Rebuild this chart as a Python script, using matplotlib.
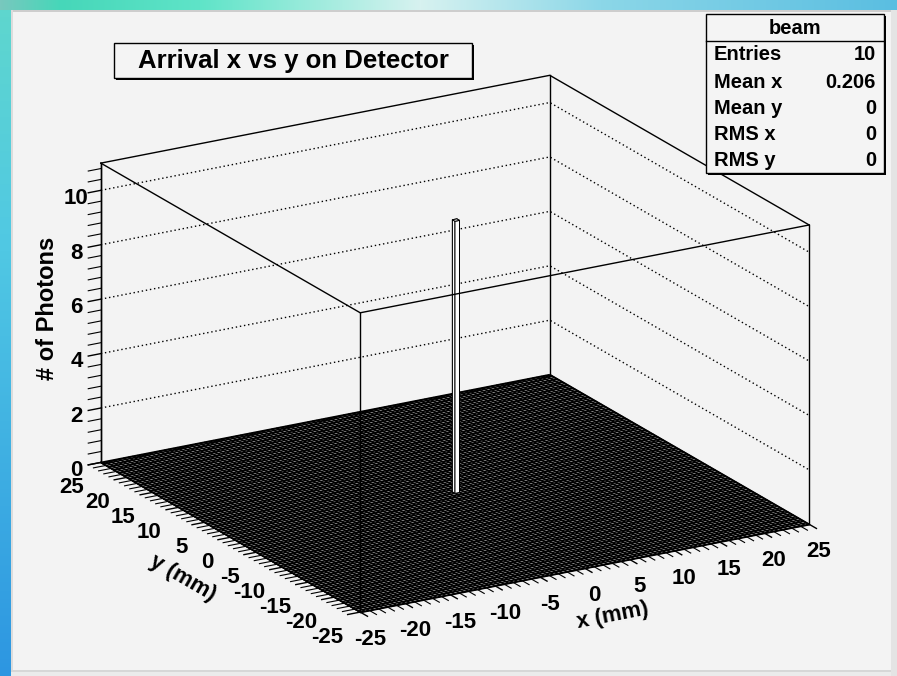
import numpy as np
import matplotlib
matplotlib.use("Agg")
import matplotlib.pyplot as plt
from matplotlib.patches import Rectangle
from mpl_toolkits.mplot3d import proj3d
from mpl_toolkits.mplot3d.art3d import Line3DCollection, Poly3DCollection

plt.rcParams['font.family'] = ['Liberation Sans', 'DejaVu Sans']
plt.rcParams['font.weight'] = 'bold'
plt.rcParams['axes.unicode_minus'] = False

# ---------------- data ----------------
title_text = "Arrival x vs y on Detector"
hist_name = "beam"
x_label = "x (mm)"
y_label = "y (mm)"
z_label = "# of Photons"
x_range = [-25.0, 25.0]
y_range = [-25.0, 25.0]
n_bins = [100, 100]
entry_x = [0.206]
entry_y = [0.0]
entry_weight = [10]
z_max = 11.0
x_tick_values = [-25, -20, -15, -10, -5, 0, 5, 10, 15, 20, 25]
y_tick_values = [-25, -20, -15, -10, -5, 0, 5, 10, 15, 20, 25]
z_tick_values = [0, 2, 4, 6, 8, 10]
stats_names = ["Entries", "Mean x", "Mean y", "RMS x", "RMS y"]
stats_values = ["10", "0.206", "0", "0", "0"]

W, H = 897, 676
fig = plt.figure(figsize=(W / 100, H / 100), dpi=100)

# ---------------- slide background ----------------
bg = fig.add_axes([0, 0, 1, 1], zorder=-10)
bg.set_axis_off()
img = np.ones((H, W, 3)) * (243 / 255)
cols = np.arange(W)
stops_x = [0, 60, 200, 420, 600, W - 1]
stops_c = np.array([(120, 200, 190), (70, 215, 185), (95, 228, 200),
                    (215, 242, 240), (140, 215, 232), (90, 190, 225)]) / 255
top = np.stack([np.interp(cols, stops_x, stops_c[:, k]) for k in range(3)], axis=1)
img[0:10, :, :] = top[None, :, :]
rows = np.arange(H)
lstops_y = [0, 250, H - 1]
lstops_c = np.array([(95, 215, 205), (80, 200, 228), (45, 150, 225)]) / 255
left = np.stack([np.interp(rows, lstops_y, lstops_c[:, k]) for k in range(3)], axis=1)
img[10:, 0:11, :] = left[10:, None, :]
img[10:12, 11:, :] = 205 / 255
img[10:, 11:13, :] = 220 / 255
img[670:672, 11:, :] = 215 / 255
img[672:, 11:, :] = 235 / 255
img[10:, 891:, :] = 228 / 255
bg.imshow(img, aspect='auto', extent=[0, W, H, 0], interpolation='nearest')
bg.set_xlim(0, W)
bg.set_ylim(H, 0)

# ---------------- 3D lego ----------------
S0 = 600.0
ax = fig.add_axes([100 / W, 40 / H, S0 / W, S0 / H], projection='3d')
ax.set_proj_type('ortho')
ax.view_init(elev=19.63, azim=-120.21)
ax.set_box_aspect((520.7, 516.7, 318.5))
ax.set_xlim(*x_range)
ax.set_ylim(*y_range)
ax.set_zlim(0, z_max)
ax.computed_zorder = False
ax.set_facecolor((1, 1, 1, 0))
ax.grid(False)
for a in (ax.xaxis, ax.yaxis, ax.zaxis):
    a.set_pane_color((1, 1, 1, 0))
    a.line.set_color('black')
    a.line.set_linewidth(1.0)
    a._axinfo['tick']['inward_factor'] = 0.35
    a._axinfo['tick']['outward_factor'] = 0.0
    a._axinfo['tick']['linewidth'] = {True: 1.0, False: 0.8}

ax.set_xticks(x_tick_values)
ax.set_yticks(y_tick_values)
ax.set_zticks(z_tick_values)
ax.set_xticks(np.arange(x_range[0], x_range[1] + 0.5, 1.0), minor=True)
ax.set_yticks(np.arange(y_range[0], y_range[1] + 0.5, 1.0), minor=True)
ax.set_zticks(np.arange(0, z_max + 0.01, 0.4), minor=True)
ax.tick_params(axis='x', which='major', labelsize=16, pad=3)
ax.tick_params(axis='y', which='major', labelsize=16, pad=3)
ax.tick_params(axis='z', which='major', labelsize=16, pad=2)
plt.setp(ax.get_yticklabels(), ha='right')
ax.set_xlabel(x_label, fontsize=16, fontweight='bold', labelpad=10)
ax.set_ylabel(y_label, fontsize=16, fontweight='bold', labelpad=10)
ax.set_zlabel(z_label, fontsize=17, fontweight='bold', labelpad=1)

x_edges = np.linspace(x_range[0], x_range[1], n_bins[0] + 1)
y_edges = np.linspace(y_range[0], y_range[1], n_bins[1] + 1)
counts, _, _ = np.histogram2d(entry_x, entry_y, bins=[x_edges, y_edges],
                              weights=entry_weight)

# back wall dotted grid
x0, x1 = x_range
y0, y1 = y_range
for zt in z_tick_values[1:]:
    ax.plot([x0, x1, x1], [y1, y1, y0], [zt, zt, zt], color='black',
            lw=1.0, linestyle=(0, (1, 2)), zorder=1)

# box edges (back)
ax.plot([x1, x1], [y1, y1], [0, z_max], color='black', lw=1.0, zorder=1)
ax.plot([x0, x1, x1], [y1, y1, y0], [z_max, z_max, z_max], color='black', lw=1.0, zorder=1)

# floor of empty bins
floor = Poly3DCollection([[(x0, y0, 0), (x1, y0, 0), (x1, y1, 0), (x0, y1, 0)]],
                         facecolor='white', edgecolor='black', linewidths=1.0, zorder=2)
ax.add_collection3d(floor)
segs_x = [[(xe, y0, 0), (xe, y1, 0)] for xe in x_edges]
segs_y = [[(x0, ye, 0), (x1, ye, 0)] for ye in y_edges]
ax.add_collection3d(Line3DCollection(segs_y, colors='black', linewidths=1.1, zorder=3))
ax.add_collection3d(Line3DCollection(segs_x, colors='black', linewidths=1.2, zorder=3))

# filled bins
dx = x_edges[1] - x_edges[0]
dy = y_edges[1] - y_edges[0]
for i in range(n_bins[0]):
    for j in range(n_bins[1]):
        if counts[i, j] > 0:
            ax.bar3d(x_edges[i], y_edges[j], 0, dx, dy, counts[i, j],
                     color='white', edgecolor='black', linewidth=0.7,
                     shade=False, zorder=4)

# box edges (front)
ax.plot([x0, x0], [y1, y1], [0, z_max], color='black', lw=1.0, zorder=5)
ax.plot([x0, x0], [y0, y0], [0, z_max], color='black', lw=1.0, zorder=5)
ax.plot([x1, x1], [y0, y0], [0, z_max], color='black', lw=1.0, zorder=5)
ax.plot([x0, x0, x1], [y1, y0, y0], [z_max, z_max, z_max], color='black', lw=1.0, zorder=5)

# ---- fit the projected box onto the reference frame (layout only) ----
fig.canvas.draw()
corners = np.array([[x0, y0, 0], [x0, y1, 0], [x1, y0, 0],
                    [x0, y1, z_max], [x1, y1, z_max], [x0, y0, z_max]])
target_px = np.array([[360, 612], [100, 463], [810, 522],
                      [100, 163], [551, 78], [360, 312]], float)
target_px[:, 1] = H - target_px[:, 1]
M = ax.get_proj()
px, py, _ = proj3d.proj_transform(corners[:, 0], corners[:, 1], corners[:, 2], M)
P = ax.transData.transform(np.column_stack([px, py]))
bb = ax.get_position()
cx = (bb.x0 + bb.width / 2) * W
cy = (bb.y0 + bb.height / 2) * H
S = bb.width * W
q = (P - [cx, cy]) / S
A = np.zeros((2 * len(q), 3))
A[0::2, 0] = q[:, 0]
A[0::2, 1] = 1
A[1::2, 0] = q[:, 1]
A[1::2, 2] = 1
sol, *_ = np.linalg.lstsq(A, target_px.flatten(), rcond=None)
S2, cx2, cy2 = sol
ax.set_position([(cx2 - S2 / 2) / W, (cy2 - S2 / 2) / H, S2 / W, S2 / H])

# ---------------- overlay: title and stats boxes ----------------
ov = fig.add_axes([0, 0, 1, 1], zorder=10)
ov.set_axis_off()
ov.set_xlim(0, W)
ov.set_ylim(H, 0)
ov.patch.set_visible(False)

def pave(x, y, w, h):
    ov.add_patch(Rectangle((x + 2, y + 2), w, h, facecolor='black', edgecolor='black', lw=0))
    ov.add_patch(Rectangle((x, y), w, h, facecolor='#f4f4f4', edgecolor='black', lw=1.0))

pave(114, 43, 358, 35)
ov.text(293, 61, title_text, ha='center', va='center', fontsize=18.5, fontweight='bold')

pave(706, 14, 178, 159)
ov.plot([706, 884], [41, 41], color='black', lw=1.0)
ov.text(795, 28, hist_name, ha='center', va='center', fontsize=14.5, fontweight='bold')
row_y = [55, 82, 108, 135, 161]
for name, val, yy in zip(stats_names, stats_values, row_y):
    ov.text(714, yy, name, ha='left', va='center', fontsize=14.5, fontweight='bold')
    ov.text(876, yy, val, ha='right', va='center', fontsize=14.5, fontweight='bold')

fig.savefig("out.png", dpi=100)
